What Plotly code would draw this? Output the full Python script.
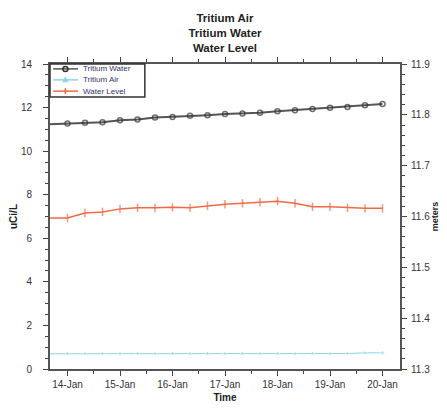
import plotly.graph_objects as go

times = ["2024-01-13 16:00", "2024-01-14 00:00", "2024-01-14 08:00", "2024-01-14 16:00",
         "2024-01-15 00:00", "2024-01-15 08:00", "2024-01-15 16:00",
         "2024-01-16 00:00", "2024-01-16 08:00", "2024-01-16 16:00",
         "2024-01-17 00:00", "2024-01-17 08:00", "2024-01-17 16:00",
         "2024-01-18 00:00", "2024-01-18 08:00", "2024-01-18 16:00",
         "2024-01-19 00:00", "2024-01-19 08:00", "2024-01-19 16:00",
         "2024-01-20 00:00"]

tritium_water = [11.24, 11.27, 11.30, 11.33, 11.42, 11.45, 11.54, 11.57, 11.62, 11.65,
                 11.70, 11.73, 11.76, 11.83, 11.88, 11.93, 11.99, 12.03, 12.11, 12.16]
tritium_air = [0.70, 0.70, 0.70, 0.70, 0.70, 0.70, 0.70, 0.70, 0.70, 0.70,
               0.70, 0.70, 0.70, 0.70, 0.70, 0.70, 0.70, 0.71, 0.74, 0.74]
water_level = [11.597, 11.597, 11.607, 11.609, 11.615, 11.617, 11.617, 11.618, 11.617, 11.621,
               11.624, 11.626, 11.628, 11.630, 11.626, 11.619, 11.619, 11.617, 11.616, 11.616]

tick_vals = ["2024-01-14", "2024-01-15", "2024-01-16", "2024-01-17", "2024-01-18", "2024-01-19", "2024-01-20"]
tick_text = ["14-Jan", "15-Jan", "16-Jan", "17-Jan", "18-Jan", "19-Jan", "20-Jan"]

series_names = ["Tritium Water", "Tritium Air", "Water Level"]
series_colors = ["#555555", "#8fd3e3", "#f26a45"]

n = len(times)
fig = go.Figure()
fig.add_trace(go.Scatter(x=times, y=tritium_water, name=series_names[0], mode="lines+markers",
                         line=dict(color=series_colors[0], width=2),
                         marker=dict(symbol="circle-open", size=[0] + [5] * (n - 1), color="#333333",
                                     line=dict(width=1.5))))
fig.add_trace(go.Scatter(x=times, y=tritium_air, name=series_names[1], mode="lines+markers",
                         line=dict(color=series_colors[1], width=1),
                         marker=dict(symbol="triangle-up", size=[0] + [5] * (n - 1), color=series_colors[1])))
fig.add_trace(go.Scatter(x=times, y=water_level, name=series_names[2], mode="lines+markers", yaxis="y2",
                         line=dict(color=series_colors[2], width=1.5),
                         marker=dict(symbol="line-ns-open", size=[0] + [6] * (n - 1),
                                     color=series_colors[2], line=dict(width=1.5, color=series_colors[2]))))

axis_common = dict(showline=True, linecolor="#555555", linewidth=2, showgrid=False, zeroline=False,
                   automargin=False,
                   ticks="outside", ticklen=5, tickwidth=1, tickcolor="#444444",
                   tickfont=dict(family="Liberation Sans", size=10, color="#333333"))

# compact legend (box, line samples, glyphs, labels) in paper coordinates
shapes = [dict(type="rect", xref="paper", yref="paper", x0=0, x1=0.271, y0=0.892, y1=1,
               line=dict(color="#333333", width=1.5), fillcolor="white", layer="above")]
annotations = []
rows_y = [0.984, 0.948, 0.911]
for name, color, ry in zip(series_names, series_colors, rows_y):
    shapes.append(dict(type="line", xref="paper", yref="paper", x0=0.009, x1=0.08, y0=ry, y1=ry,
                       line=dict(color=color, width=1.5), layer="above"))
    annotations.append(dict(text=name, xref="paper", yref="paper", x=0.089, y=ry, xanchor="left",
                            yanchor="middle", showarrow=False,
                            font=dict(size=8, family="Liberation Sans", color="#333366")))
glyph_x = 0.044
shapes.append(dict(type="circle", xref="paper", yref="paper", xsizemode="pixel", ysizemode="pixel",
                   xanchor=glyph_x, yanchor=rows_y[0], x0=-2.5, x1=2.5, y0=-2.5, y1=2.5,
                   line=dict(color="#333333", width=1.5), layer="above"))
shapes.append(dict(type="path", xref="paper", yref="paper", xsizemode="pixel", ysizemode="pixel",
                   xanchor=glyph_x, yanchor=rows_y[1], path="M -2.5,-2 L 2.5,-2 L 0,2.5 Z",
                   fillcolor=series_colors[1], line=dict(color=series_colors[1], width=1), layer="above"))
shapes.append(dict(type="line", xref="paper", yref="paper", xsizemode="pixel", ysizemode="pixel",
                   xanchor=glyph_x, yanchor=rows_y[2], x0=0, x1=0, y0=-3, y1=3,
                   line=dict(color=series_colors[2], width=1.5), layer="above"))

# the page body has an 8px default margin, so the figure is sized/placed to fit the 447x409 window
fig.update_layout(
    width=439, height=401,
    margin=dict(l=42, r=47, t=56, b=40),
    paper_bgcolor="white", plot_bgcolor="white",
    font=dict(family="Liberation Sans", color="#222222"),
    showlegend=False,
    title=dict(text="<b>Tritium Air<br>Tritium Water<br>Water Level</b>",
               x=0.5, xref="paper", xanchor="center", y=0.966, yanchor="top",
               font=dict(size=11.5, family="Liberation Sans", color="#222222")),
    xaxis=dict(**axis_common, type="date",
               range=["2024-01-13 16:00", "2024-01-20 08:00"],
               tickvals=tick_vals, ticktext=tick_text, mirror="ticks",
               minor=dict(dtick=43200000, ticks="outside", ticklen=3, tickcolor="#444444", showgrid=False),
               title=dict(text="<b>Time</b>", standoff=5, font=dict(size=10))),
    yaxis=dict(**axis_common, range=[0, 14], dtick=2, ticklabelstandoff=9,
               minor=dict(dtick=0.5, ticks="outside", ticklen=3, tickcolor="#444444", showgrid=False),
               title=dict(text="<b>uCi/L</b>", standoff=6, font=dict(size=10))),
    yaxis2=dict(**axis_common, range=[11.3, 11.9], dtick=0.1, overlaying="y", side="right",
                tickformat=".1f", ticklabelstandoff=2,
                minor=dict(dtick=0.02, ticks="outside", ticklen=3, tickcolor="#444444", showgrid=False),
                title=dict(text="<b>meters</b>", standoff=0, font=dict(size=9))),
    shapes=shapes,
    annotations=annotations,
)

fig.write_html("out.html")
